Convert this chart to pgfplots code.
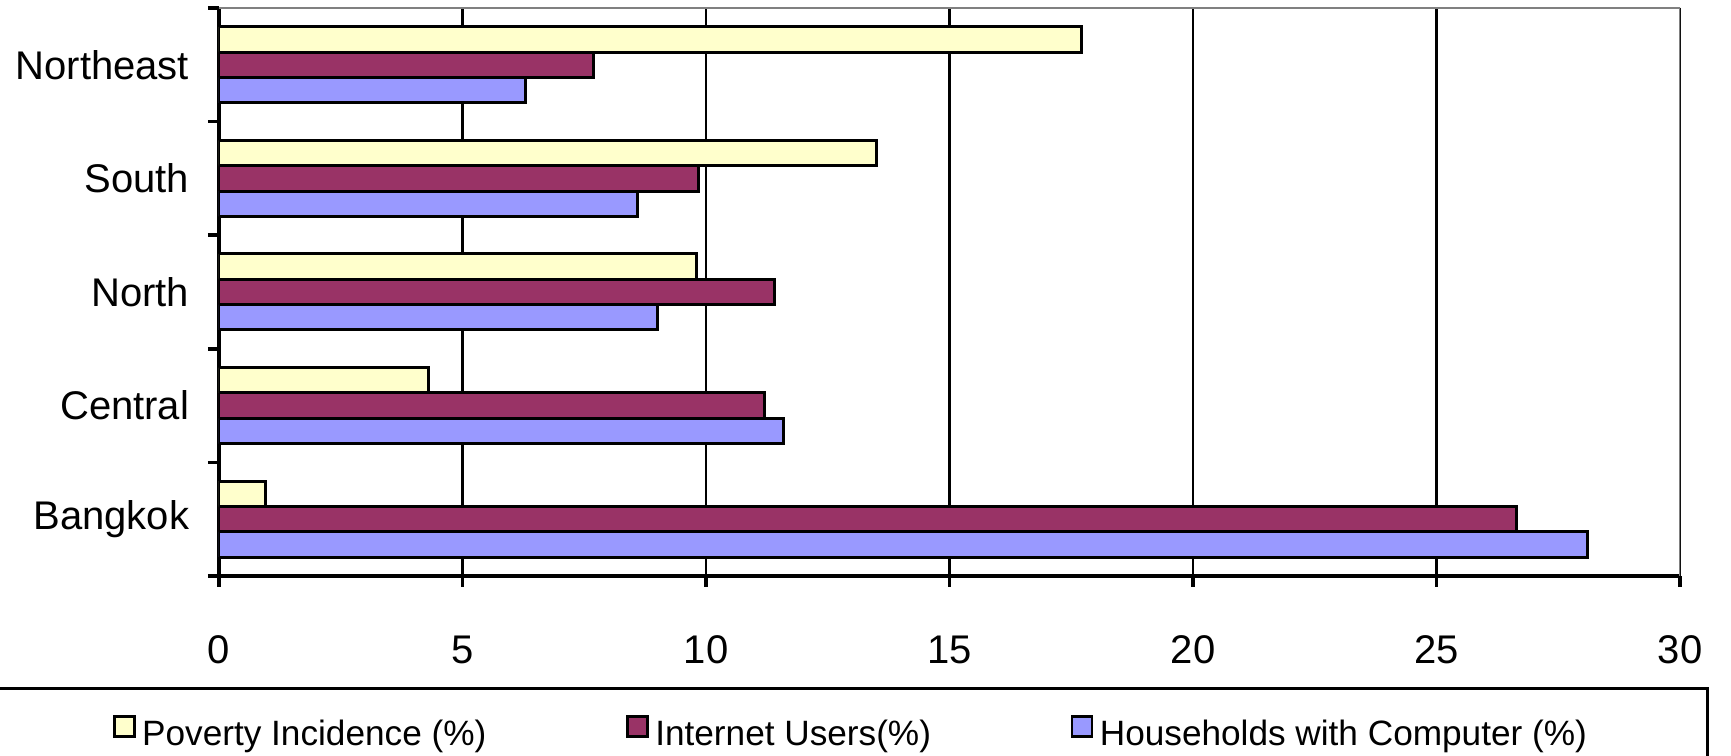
\documentclass[border=0pt]{standalone}
\usepackage{fontspec}
\setmainfont{Liberation Sans}
\usepackage{pgfplots}
\usepackage{pgfplotstable}
\pgfplotsset{compat=1.18}

\definecolor{povyellow}{HTML}{FFFFCC}
\definecolor{netmaroon}{HTML}{993366}
\definecolor{hhblue}{HTML}{9999FF}
\definecolor{framegray}{HTML}{808080}

% regions bottom to top: Bangkok, Central, North, South, Northeast
\pgfplotstableread{
y pov net hh
0 0.96 26.65 28.1
1 4.3 11.2 11.6
2 9.8 11.4 9.0
3 13.5 9.85 8.6
4 17.7 7.7 6.3
}\regions

\begin{document}
\begin{tikzpicture}
\begin{axis}[
    at={(54.75pt,-144pt)}, anchor=south west,
    scale only axis,
    width=365.25pt, height=142pt,
    xbar, bar width=0.223,
    xmin=0, xmax=30, ymin=-0.5, ymax=4.5,
    axis x line=bottom, axis y line=left,
    axis line style={-, line width=0.9pt, black},
    xtick={0,5,...,30},
    ytick={-0.5,0.5,...,4.5}, yticklabels={},
    extra y ticks={0,1,2,3,4},
    extra y tick labels={Bangkok,Central,North,South,Northeast},
    extra y tick style={major tick length=0pt, grid=none},
    tick align=outside, major tick length=2.75pt,
    tick style={black, line width=0.9pt},
    xmajorgrids, grid style={black, line width=0.7pt},
    ticklabel style={font=\fontsize{10}{12}\selectfont},
    /pgf/number format/assume math mode=true,
    xticklabel style={yshift=-8.7pt},
    yticklabel style={xshift=-3.95pt},
    every axis plot/.append style={draw=black, line width=0.75pt},
    legend columns=3,
    legend image code/.code={%
        \filldraw[#1, draw=black, line width=0.6pt] (0pt,-0.2pt) rectangle (5pt,4.8pt);},
    legend style={
        at={(0.432,-0.1954)}, anchor=north,
        draw=black, line width=0.75pt,
        inner xsep=30pt, inner ysep=6.75pt,
        nodes={inner sep=0pt},
        font=\fontsize{8.8}{10}\selectfont,
        /tikz/every odd column/.append style={column sep=1.6pt},
        /tikz/every even column/.append style={column sep=35pt},
    },
]
\addplot[fill=povyellow, bar shift=0.223] table[x=pov, y=y] {\regions};
\addplot[fill=netmaroon, bar shift=0] table[x=net, y=y] {\regions};
\addplot[fill=hhblue, bar shift=-0.223] table[x=hh, y=y] {\regions};
\legend{Poverty Incidence (\%), Internet Users(\%), Households with Computer (\%)}
\draw[framegray, line width=0.6pt] (rel axis cs:0,1) -- (rel axis cs:1,1) -- (rel axis cs:1,0);
\end{axis}
\pgfresetboundingbox
\useasboundingbox (0,0) rectangle (432.75pt,-189pt);
\end{tikzpicture}
\end{document}
